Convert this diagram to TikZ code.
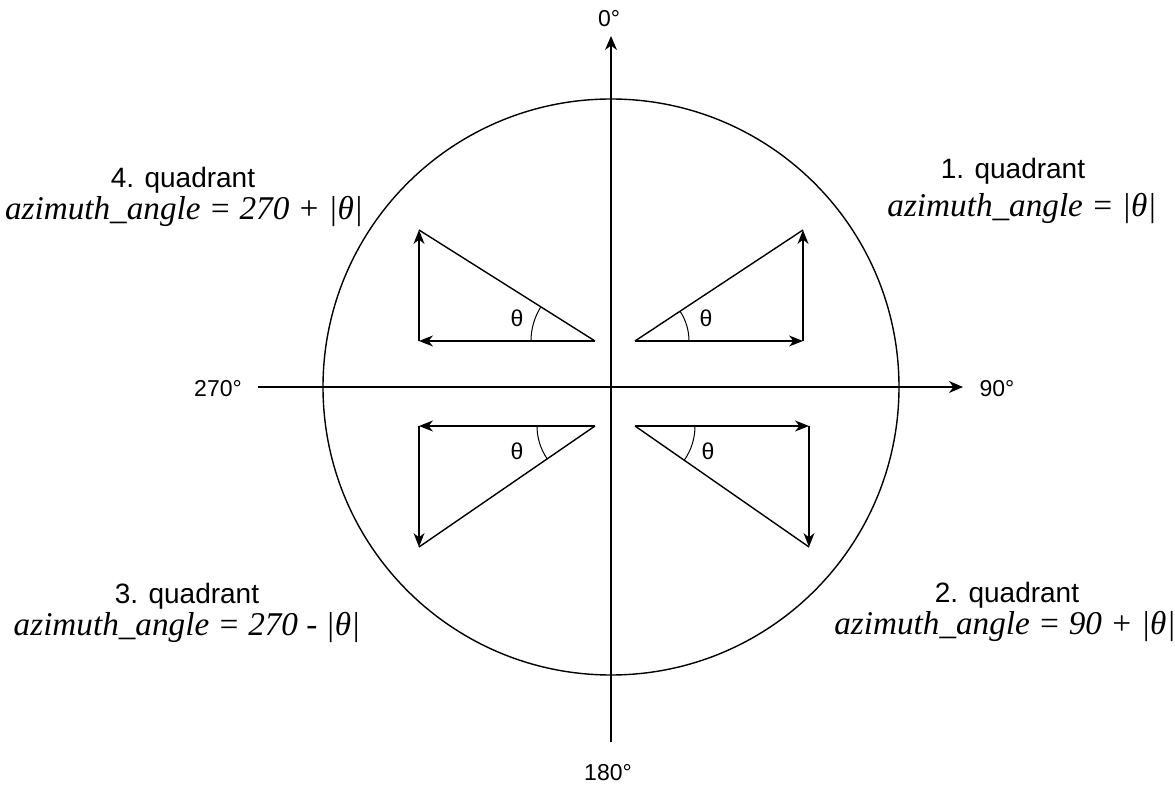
\documentclass[tikz,border=0pt]{standalone}
\usepackage{fontspec}
\setmainfont{Liberation Sans}
\newfontfamily\timesfont{Liberation Serif}
\usetikzlibrary{arrows.meta, angles}

\tikzset{
  axis/.style={line width=0.7pt, -{Stealth[length=7pt,width=6pt,inset=2.2pt]}},
  vec/.style={line width=0.7pt, -{Stealth[length=7pt,width=5.5pt,inset=2.2pt]}},
  deg/.style={anchor=base, font=\fontsize{11.5}{13}\selectfont},
  quadtitle/.style={anchor=base, font=\fontsize{14}{16}\selectfont},
  quadformula/.style={anchor=base, inner sep=1pt, font=\fontsize{16.6}{19}\timesfont\itshape},
  thetalabel/.style={font=\fontsize{11.5}{13}\selectfont},
  arcmark/.style={draw, line width=0.5pt},
}

\begin{document}
\begin{tikzpicture}[x=0.5pt, y=-0.5pt]
    \useasboundingbox (0,0) rectangle (1175,786);

    % circle and axes
    \coordinate (O) at (611,387);
    \draw[line width=0.7pt] (O) circle[radius=144pt];
    \coordinate (south) at (611,742);
    \coordinate (north) at (611,36);
    \coordinate (west) at (258,387);
    \coordinate (east) at (963,387);
    \draw[axis] (south) -- (north);
    \draw[axis] (west) -- (east);
    \node[deg] (n0) at (609,27) {0°};
    \node[deg] (n180) at (608,781) {180°};
    \node[deg] (n270) at (218,397) {270°};
    \node[deg] (n90) at (997,397) {90°};

    % 1. quadrant
    \coordinate (a1) at (635,341);
    \coordinate (c1) at (803,341);
    \coordinate (t1) at (803,230);
    \draw[vec] (a1) -- (c1);
    \draw[vec] (c1) -- (t1);
    \draw[line width=0.7pt] (a1) -- (t1);
    \pic[arcmark, angle radius=27pt] {angle = c1--a1--t1};
    \node[thetalabel] (th1) at (706,318) {θ};

    % 4. quadrant
    \coordinate (a4) at (595,341);
    \coordinate (c4) at (419,341);
    \coordinate (t4) at (419,230);
    \draw[vec] (a4) -- (c4);
    \draw[vec] (c4) -- (t4);
    \draw[line width=0.7pt] (a4) -- (t4);
    \pic[arcmark, angle radius=32pt] {angle = t4--a4--c4};
    \node[thetalabel] (th4) at (517,318) {θ};

    % 3. quadrant
    \coordinate (a3) at (595,426);
    \coordinate (c3) at (419,426);
    \coordinate (b3) at (419,547);
    \draw[vec] (a3) -- (c3);
    \draw[vec] (c3) -- (b3);
    \draw[line width=0.7pt] (a3) -- (b3);
    \pic[arcmark, angle radius=29pt] {angle = c3--a3--b3};
    \node[thetalabel] (th3) at (517,451) {θ};

    % 2. quadrant
    \coordinate (a2) at (635,426);
    \coordinate (c2) at (809,426);
    \coordinate (b2) at (809,547);
    \draw[vec] (a2) -- (c2);
    \draw[vec] (c2) -- (b2);
    \draw[line width=0.7pt] (a2) -- (b2);
    \pic[arcmark, angle radius=30pt] {angle = b2--a2--c2};
    \node[thetalabel] (th2) at (708,451) {θ};

    % quadrant labels
    \node[quadtitle] (q1) at (1013,179) {1. quadrant};
    \node[quadformula] (f1) at (1022,217) {azimuth\_angle = |θ|};
    \node[quadtitle] (q4) at (183,188) {4. quadrant};
    \node[quadformula] (f4) at (184,220) {azimuth\_angle = 270 + |θ|};
    \node[quadtitle] (q3) at (187,604) {3. quadrant};
    \node[quadformula] (f3) at (187,636) {azimuth\_angle = 270 - |θ|};
    \node[quadtitle] (q2) at (1007,603) {2. quadrant};
    \node[quadformula] (f2) at (1005,635) {azimuth\_angle = 90 + |θ|};
\end{tikzpicture}
\end{document}
